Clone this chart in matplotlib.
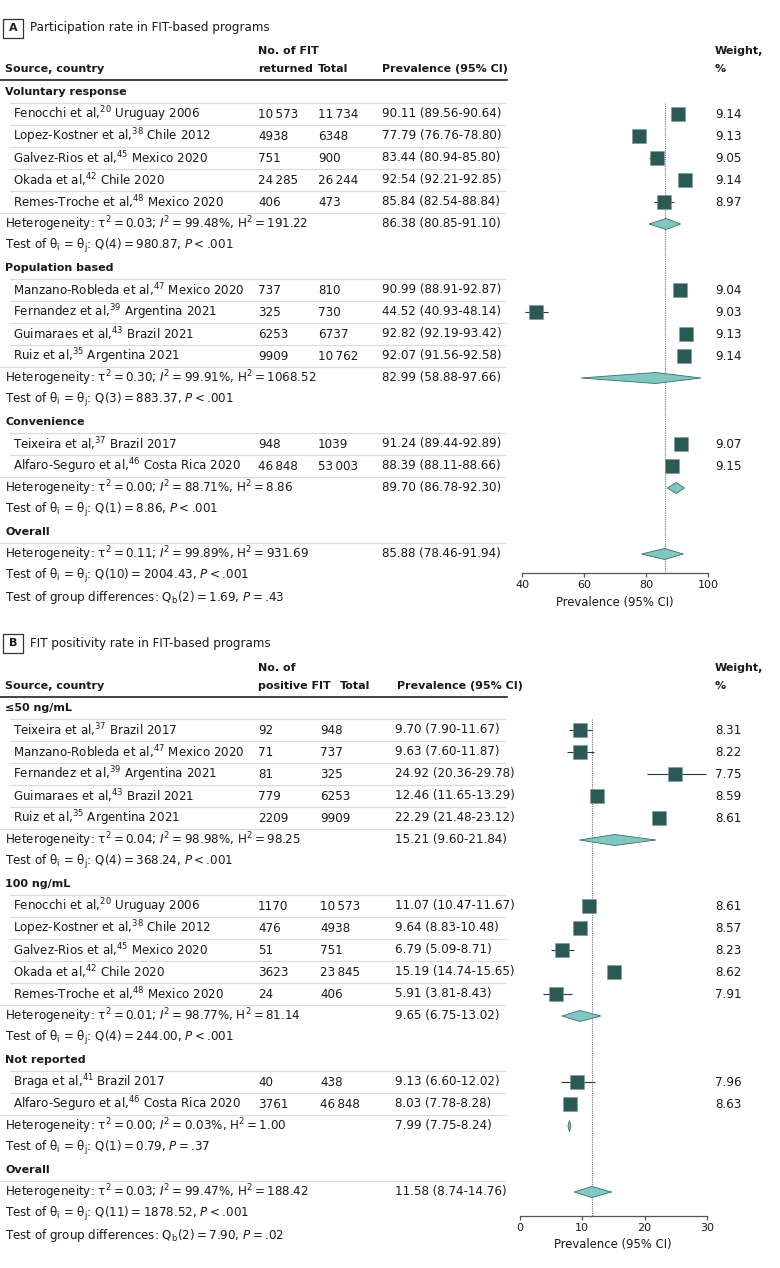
import numpy as np
import matplotlib.pyplot as plt
from matplotlib.patches import Polygon, Rectangle

# ---------------- data: panel A (participation) ----------------
a_names = ["Fenocchi et al", "Lopez-Kostner et al", "Galvez-Rios et al", "Okada et al",
           "Remes-Troche et al", "Manzano-Robleda et al", "Fernandez et al", "Guimaraes et al",
           "Ruiz et al", "Teixeira et al", "Alfaro-Seguro et al"]
a_refs = [20, 38, 45, 42, 48, 47, 39, 43, 35, 37, 46]
a_places = ["Uruguay 2006", "Chile 2012", "Mexico 2020", "Chile 2020", "Mexico 2020",
            "Mexico 2020", "Argentina 2021", "Brazil 2021", "Argentina 2021",
            "Brazil 2017", "Costa Rica 2020"]
a_count = [10573, 4938, 751, 24285, 406, 737, 325, 6253, 9909, 948, 46848]
a_total = [11734, 6348, 900, 26244, 473, 810, 730, 6737, 10762, 1039, 53003]
a_prev = [90.11, 77.79, 83.44, 92.54, 85.84, 90.99, 44.52, 92.82, 92.07, 91.24, 88.39]
a_lo = [89.56, 76.76, 80.94, 92.21, 82.54, 88.91, 40.93, 92.19, 91.56, 89.44, 88.11]
a_hi = [90.64, 78.80, 85.80, 92.85, 88.84, 92.87, 48.14, 93.42, 92.58, 92.89, 88.66]
a_weight = [9.14, 9.13, 9.05, 9.14, 8.97, 9.04, 9.03, 9.13, 9.14, 9.07, 9.15]
a_group = [0, 0, 0, 0, 0, 1, 1, 1, 1, 2, 2]

a_group_names = ["Voluntary response", "Population based", "Convenience"]
a_g_tau2 = [0.03, 0.30, 0.00]
a_g_i2 = [99.48, 99.91, 88.71]
a_g_h2 = [191.22, 1068.52, 8.86]
a_g_prev = [86.38, 82.99, 89.70]
a_g_lo = [80.85, 58.88, 86.78]
a_g_hi = [91.10, 97.66, 92.30]
a_g_df = [4, 3, 1]
a_g_q = [980.87, 883.37, 8.86]
a_g_p = [0.0001, 0.0001, 0.0001]

# overall: tau2, I2, H2, prev, lo, hi, df, Q, P, Qb df, Qb, Qb P
a_overall = [0.11, 99.89, 931.69, 85.88, 78.46, 91.94, 10, 2004.43, 0.0001, 2, 1.69, 0.43]

# ---------------- data: panel B (positivity) ----------------
b_names = ["Teixeira et al", "Manzano-Robleda et al", "Fernandez et al", "Guimaraes et al",
           "Ruiz et al", "Fenocchi et al", "Lopez-Kostner et al", "Galvez-Rios et al",
           "Okada et al", "Remes-Troche et al", "Braga et al", "Alfaro-Seguro et al"]
b_refs = [37, 47, 39, 43, 35, 20, 38, 45, 42, 48, 41, 46]
b_places = ["Brazil 2017", "Mexico 2020", "Argentina 2021", "Brazil 2021", "Argentina 2021",
            "Uruguay 2006", "Chile 2012", "Mexico 2020", "Chile 2020", "Mexico 2020",
            "Brazil 2017", "Costa Rica 2020"]
b_count = [92, 71, 81, 779, 2209, 1170, 476, 51, 3623, 24, 40, 3761]
b_total = [948, 737, 325, 6253, 9909, 10573, 4938, 751, 23845, 406, 438, 46848]
b_prev = [9.70, 9.63, 24.92, 12.46, 22.29, 11.07, 9.64, 6.79, 15.19, 5.91, 9.13, 8.03]
b_lo = [7.90, 7.60, 20.36, 11.65, 21.48, 10.47, 8.83, 5.09, 14.74, 3.81, 6.60, 7.78]
b_hi = [11.67, 11.87, 29.78, 13.29, 23.12, 11.67, 10.48, 8.71, 15.65, 8.43, 12.02, 8.28]
b_weight = [8.31, 8.22, 7.75, 8.59, 8.61, 8.61, 8.57, 8.23, 8.62, 7.91, 7.96, 8.63]
b_group = [0, 0, 0, 0, 0, 1, 1, 1, 1, 1, 2, 2]

b_group_names = ["\u226450 ng/mL", "100 ng/mL", "Not reported"]
b_g_tau2 = [0.04, 0.01, 0.00]
b_g_i2 = [98.98, 98.77, 0.03]
b_g_h2 = [98.25, 81.14, 1.00]
b_g_prev = [15.21, 9.65, 7.99]
b_g_lo = [9.60, 6.75, 7.75]
b_g_hi = [21.84, 13.02, 8.24]
b_g_df = [4, 4, 1]
b_g_q = [368.24, 244.00, 0.79]
b_g_p = [0.0001, 0.0001, 0.37]

b_overall = [0.03, 99.47, 188.42, 11.58, 8.74, 14.76, 11, 1878.52, 0.0001, 2, 7.90, 0.02]

# ---------------- style ----------------
plt.rcParams['font.family'] = ['DejaVu Sans']
plt.rcParams['mathtext.fontset'] = 'dejavusans'

FS = 8.6      # body text
FSB = 8.0     # bold headers
SQ = '#2b5a56'
DIA = '#80c6c1'
DIA_EDGE = '#3d6e6a'
ROWLINE = '#dcdcd4'
TXT = '#1a1a1a'
TS = '\u2009'
STEP = 22

W, H = 780, 1268
fig = plt.figure(figsize=(W / 100, H / 100), dpi=100)
bg = fig.add_axes([0, 0, 1, 1])
bg.set_xlim(0, W)
bg.set_ylim(H, 0)
bg.axis('off')


def fmt_n(n):
    return f"{n:,}".replace(",", TS) if n >= 10000 else str(n)


def p_txt(p):
    if p < 0.001:
        return f"$P${TS}<{TS}.001"
    return f"$P${TS}={TS}" + f"{p:.2f}"[1:]


def het_txt(tau2, i2, h2):
    return (f"Heterogeneity: \u03c4$^{{\\mathrm{{2}}}}${TS}={TS}{tau2:.2f}; "
            f"$\\mathit{{I}}^{{\\mathrm{{2}}}}${TS}={TS}{i2:.2f}%, "
            f"H$^{{\\mathrm{{2}}}}${TS}={TS}{h2:.2f}")


def test_txt(df, q, p):
    return (f"Test of \u03b8$_{{\\mathrm{{i}}}}$ = \u03b8$_{{\\mathrm{{j}}}}$: "
            f"Q({df}){TS}={TS}{q:.2f}, " + p_txt(p))


def ci_txt(p, lo, hi):
    return f"{p:.2f} ({lo:.2f}-{hi:.2f})"


def txt(x, y, s, **kw):
    kw.setdefault('fontsize', FS)
    kw.setdefault('color', TXT)
    kw.setdefault('ha', 'left')
    bg.text(x, y, s, va='center', **kw)


def head(x, y, s, **kw):
    txt(x, y, s, fontsize=FSB, fontweight='bold', **kw)


def forest_axes(x0, x1, ytop, ybot, xlim, ticks):
    ax = fig.add_axes([x0 / W, 1 - ybot / H, (x1 - x0) / W, (ybot - ytop) / H])
    ax.set_xlim(xlim)
    ax.set_ylim(ybot, ytop)
    ax.patch.set_alpha(0)
    for s in ['left', 'right', 'top']:
        ax.spines[s].set_visible(False)
    ax.spines['bottom'].set_color('#555555')
    ax.spines['bottom'].set_linewidth(0.9)
    ax.set_yticks([])
    ax.set_xticks(ticks)
    ax.tick_params(axis='x', length=3, width=0.9, color='#555555',
                   labelsize=8.0, pad=2, labelcolor=TXT)
    ax.set_xlabel('Prevalence (95% CI)', fontsize=8.4, labelpad=4, color=TXT)
    return ax


def diamond(ax, y, p, lo, hi):
    ax.add_patch(Polygon([(lo, y), (p, y - 5.5), (hi, y), (p, y + 5.5)],
                         closed=True, fc=DIA, ec=DIA_EDGE, lw=0.6, zorder=3))


def panel(letter, title, y_title, head1, head2, y_head, y0, x_total_h, x_total, x_prev_h, x_prev,
          names, refs, places, count, total, prev, lo, hi, weight, group,
          gnames, g_tau2, g_i2, g_h2, g_prev, g_lo, g_hi, g_df, g_q, g_p,
          overall, ax):
    # title box
    bg.add_patch(Rectangle((3, y_title - 9.5), 20, 19, fill=False, ec='#333333', lw=0.9))
    head(13, y_title, letter, ha='center')
    txt(30, y_title, title, fontsize=8.6)
    # header
    head(258, y_head - 18, head1)
    head(258, y_head, head2)
    head(5, y_head, "Source, country")
    head(x_total_h, y_head, "Total")
    head(x_prev_h, y_head, "Prevalence (95% CI)")
    head(715, y_head - 18, "Weight,")
    head(715, y_head, "%")
    bg.plot([0, 507], [y_head + 10.5, y_head + 10.5], color='#222222', lw=1.2)

    row = 0
    for g, gname in enumerate(gnames):
        y = y0 + row * STEP
        head(5, y, gname)
        row += 1
        idx = [i for i in range(len(names)) if group[i] == g]
        for i in idx:
            y = y0 + row * STEP
            bg.plot([10, 505], [y - 11, y - 11], color=ROWLINE, lw=0.9)
            txt(13, y, f"{names[i]},$^{{\\mathrm{{{refs[i]}}}}}$ {places[i]}")
            txt(258, y, fmt_n(count[i]))
            txt(x_total, y, fmt_n(total[i]))
            txt(x_prev, y, ci_txt(prev[i], lo[i], hi[i]))
            txt(715, y, f"{weight[i]:.2f}")
            ax.hlines(y, lo[i], hi[i], color='#333333', lw=0.8, zorder=2)
            ax.plot(prev[i], y, 's', ms=3.4 * np.sqrt(weight[i]), color=SQ,
                    mec='#7a9a97', mew=0.4, zorder=4)
            row += 1
        bg.plot([0, 505], [y + 11, y + 11], color=ROWLINE, lw=0.9)
        y = y0 + row * STEP
        txt(5, y, het_txt(g_tau2[g], g_i2[g], g_h2[g]))
        txt(x_prev, y, ci_txt(g_prev[g], g_lo[g], g_hi[g]))
        diamond(ax, y, g_prev[g], g_lo[g], g_hi[g])
        row += 1
        txt(5, y0 + row * STEP, test_txt(g_df[g], g_q[g], g_p[g]))
        row += 1

    tau2, i2, h2, op, olo, ohi, odf, oq, opv, bdf, bq, bp = overall
    y = y0 + row * STEP
    head(5, y, "Overall")
    bg.plot([0, 505], [y + 11, y + 11], color=ROWLINE, lw=0.9)
    row += 1
    y = y0 + row * STEP
    txt(5, y, het_txt(tau2, i2, h2))
    txt(x_prev, y, ci_txt(op, olo, ohi))
    diamond(ax, y, op, olo, ohi)
    row += 1
    txt(5, y0 + row * STEP, test_txt(odf, oq, opv))
    row += 1
    txt(5, y0 + row * STEP - 1,
        f"Test of group differences: Q$_{{\\mathrm{{b}}}}$({bdf}){TS}={TS}{bq:.2f}, " + p_txt(bp))

    ax.vlines(op, y0 + STEP - 11, ax.get_ylim()[0], color='#777777', lw=0.8,
              linestyles=(0, (1, 1)), zorder=1)


axA = forest_axes(522.3, 708.3, 90, 573, (40, 100), [40, 60, 80, 100])
panel("A", "Participation rate in FIT-based programs", 28, "No. of FIT", "returned", 69, 92,
      318, 318, 382, 382, a_names, a_refs, a_places, a_count, a_total, a_prev, a_lo, a_hi,
      a_weight, a_group, a_group_names, a_g_tau2, a_g_i2, a_g_h2, a_g_prev, a_g_lo, a_g_hi,
      a_g_df, a_g_q, a_g_p, a_overall, axA)

axB = forest_axes(519.5, 707, 700, 1215.7, (0, 30), [0, 10, 20, 30])
panel("B", "FIT positivity rate in FIT-based programs", 643, "No. of", "positive FIT", 686, 708,
      340, 320, 397, 395, b_names, b_refs, b_places, b_count, b_total, b_prev, b_lo, b_hi,
      b_weight, b_group, b_group_names, b_g_tau2, b_g_i2, b_g_h2, b_g_prev, b_g_lo, b_g_hi,
      b_g_df, b_g_q, b_g_p, b_overall, axB)

fig.savefig('out.png', dpi=100, facecolor='white')
